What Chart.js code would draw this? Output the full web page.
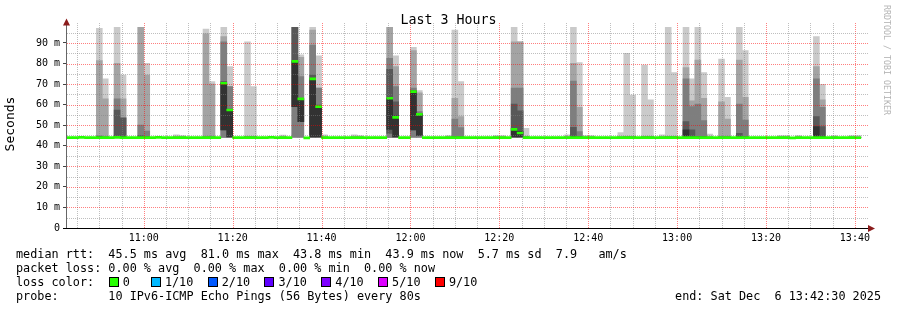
<!DOCTYPE html>
<html lang="en">
<head>
  <meta charset="UTF-8">
  <title>Last 3 Hours</title>
  <script src="https://cdn.jsdelivr.net/npm/chart.js@4.4.1/dist/chart.umd.min.js"></script>
  <style>
    body { margin: 0; background: #fff; }
    #wrap {
      position: relative;
      width: 897px;
      height: 310px;
      font-family: 'DejaVu Sans Mono', monospace;
      color: #000;
    }
    #chart { position: absolute; left: 0; top: 0; }
    .txt { position: absolute; white-space: pre; line-height: 14px; }
    .leg { left: 16px; font-size: 11.8px; }
    .box {
      position: absolute;
      width: 10px;
      height: 10px;
      box-sizing: border-box;
      border: 1px solid #000;
    }
  </style>
</head>
<body>
  <div id="wrap">
    <canvas id="chart" width="897" height="310"></canvas>

    <div class="txt" style="left:0; width:897px; text-align:center; top:13px; font-size:13.3px;">Last 3 Hours</div>
    <div class="txt" style="left:-40px; width:100px; text-align:center; top:117px; font-size:13px; transform:rotate(-90deg);">Seconds</div>
    <div class="txt" style="left:827px; width:120px; text-align:center; top:53px; font-size:8.3px; color:#b4b4b4; transform:rotate(90deg);">RRDTOOL / TOBI OETIKER</div>

    <div class="txt leg" style="top:247px;">median rtt:  45.5 ms avg  81.0 ms max  43.8 ms min  43.9 ms now  5.7 ms sd  7.9   am/s</div>
    <div class="txt leg" style="top:261px;">packet loss: 0.00 % avg  0.00 % max  0.00 % min  0.00 % now</div>
    <div class="txt leg" style="top:275px;">loss color:</div>
    <div id="lossRow"></div>
    <div class="txt leg" style="top:289px;">probe:       10 IPv6-ICMP Echo Pings (56 Bytes) every 80s</div>
    <div class="txt" style="right:16px; top:289px; font-size:11.8px;">end: Sat Dec  6 13:42:30 2025</div>
  </div>

  <script>
    // ---- time axis ----
    const X_START = '10:42:30';
    const X_END = '13:42:30';
    const FIRST_BIN = '10:42:40';   // start of first 80 s step
    const STEP_SEC = 80;

    // ---- median rtt per step (ms), 134 steps ----
    const median = [
      44.0, 44.0, 44.1, 44.0, 44.0, 44.0, 44.0, 44.0, 44.1, 44.0,
      44.0, 44.0, 44.0, 44.0, 44.0, 44.1, 44.0, 44.0, 44.0, 44.0,
      44.0, 44.0, 44.0, 44.0, 44.0, 44.0, 70.4, 57.4, 44.0, 44.0,
      44.0, 44.0, 44.0, 44.0, 44.1, 44.0, 44.0, 44.0, 81.0, 62.8,
      43.8, 72.5, 59.0, 44.0, 44.0, 44.0, 44.0, 44.0, 44.0, 44.0,
      44.0, 44.0, 44.0, 44.0, 63.1, 53.8, 44.0, 44.0, 66.3, 55.3,
      44.0, 44.0, 44.0, 44.0, 44.0, 44.0, 44.0, 44.0, 44.0, 44.0,
      44.0, 44.0, 44.0, 44.0, 44.0, 48.0, 46.2, 44.0, 44.0, 44.0,
      44.0, 44.0, 44.0, 44.0, 44.0, 44.0, 44.0, 44.0, 44.0, 44.0,
      44.0, 44.0, 44.0, 44.0, 44.0, 44.0, 44.0, 44.0, 44.0, 44.0,
      44.0, 44.0, 44.0, 44.0, 44.0, 44.0, 44.0, 44.0, 44.0, 44.0,
      44.0, 44.0, 44.0, 44.0, 44.0, 44.0, 44.0, 44.0, 44.0, 44.0,
      44.0, 44.0, 43.8, 44.0, 44.0, 44.0, 44.0, 44.0, 44.0, 44.0,
      44.0, 44.0, 44.0, 43.9
    ];

    // ---- smoke: steps with spread, and the 10 sorted pings of each (ms) ----
    const smokeStep = [
      5, 6, 8, 9, 12, 13, 18, 19, 23, 24,
      26, 27, 30, 31, 36, 38, 39, 41, 42, 43,
      48, 49, 54, 55, 58, 59, 64, 65, 66, 72,
      73, 75, 76, 77, 84, 85, 86, 87, 88, 93,
      94, 95, 97, 98, 100, 101, 102, 104, 105, 106,
      107, 108, 110, 111, 113, 114, 120, 121, 123, 126,
      127, 129, 132, 133
    ];
    const ping1 = [
      43.8, 43.8, 43.8, 43.8, 43.8, 43.8, 43.8, 43.8, 43.8, 43.8,
      43.9, 43.9, 43.8, 43.8, 43.8, 43.9, 43.9, 43.9, 43.9, 43.8,
      43.8, 43.8, 43.9, 43.9, 43.9, 43.9, 43.8, 43.8, 43.8, 43.8,
      43.8, 43.9, 43.9, 43.8, 43.8, 43.8, 43.8, 43.8, 43.8, 43.8,
      43.8, 43.8, 43.8, 43.8, 43.8, 43.8, 43.8, 43.8, 43.8, 43.8,
      43.8, 43.8, 43.8, 43.8, 43.8, 43.8, 43.8, 43.8, 43.8, 43.8,
      43.8, 43.8, 43.8, 43.8
    ];
    const ping2 = [
      43.9, 43.9, 43.9, 43.9, 43.9, 43.9, 43.9, 43.9, 43.9, 43.9,
      44.0, 44.0, 43.9, 43.9, 43.9, 44.0, 44.0, 44.0, 44.0, 43.9,
      43.9, 43.9, 44.0, 44.0, 44.0, 44.0, 43.9, 43.9, 43.9, 43.9,
      43.9, 44.0, 44.0, 43.9, 43.9, 43.9, 43.9, 43.9, 43.9, 43.9,
      43.9, 43.9, 43.9, 43.9, 43.9, 43.9, 43.9, 43.9, 43.9, 43.9,
      43.9, 43.9, 43.9, 43.9, 43.9, 43.9, 43.9, 43.9, 43.9, 43.9,
      43.9, 43.9, 43.9, 43.9
    ];
    const ping3 = [
      44.0, 44.0, 44.0, 44.0, 44.0, 44.0, 44.0, 44.0, 44.0, 44.0,
      44.1, 44.1, 44.0, 44.0, 44.0, 44.2, 44.2, 44.1, 44.1, 44.0,
      44.0, 44.0, 44.1, 44.1, 44.2, 44.2, 44.0, 44.0, 44.0, 44.0,
      44.0, 44.1, 44.1, 44.0, 44.0, 44.0, 44.0, 44.0, 44.0, 44.0,
      44.0, 44.0, 44.0, 44.0, 44.0, 44.0, 44.0, 44.0, 44.0, 44.0,
      44.0, 44.0, 44.0, 44.0, 44.0, 44.0, 44.0, 44.0, 44.0, 44.0,
      44.0, 44.0, 44.0, 44.0
    ];
    const ping4 = [
      44.0, 44.0, 44.1, 44.1, 44.1, 44.0, 44.0, 44.0, 44.0, 44.0,
      47.7, 44.2, 44.0, 44.0, 44.0, 59.0, 51.7, 44.2, 44.2, 44.0,
      44.0, 44.0, 46.0, 44.2, 47.7, 45.0, 44.0, 44.0, 44.0, 44.0,
      44.0, 44.2, 44.2, 44.0, 44.0, 44.1, 44.0, 44.0, 44.0, 44.0,
      44.0, 44.0, 44.0, 44.0, 44.0, 44.0, 44.0, 44.1, 44.0, 44.0,
      44.0, 44.0, 44.0, 44.0, 44.0, 44.0, 44.0, 44.0, 44.0, 44.1,
      44.0, 44.0, 44.0, 44.0
    ];
    const ping5 = [
      44.1, 44.1, 44.3, 44.3, 44.2, 44.1, 44.0, 44.0, 44.1, 44.1,
      47.7, 44.4, 44.1, 44.1, 44.0, 59.0, 51.7, 44.4, 44.4, 44.0,
      44.0, 44.0, 48.0, 44.4, 47.7, 45.0, 44.0, 44.1, 44.1, 44.0,
      44.0, 44.4, 44.4, 44.1, 44.0, 44.2, 44.1, 44.0, 44.0, 44.0,
      44.1, 44.1, 44.1, 44.1, 44.0, 44.1, 44.1, 44.3, 44.1, 44.1,
      44.1, 44.0, 44.1, 44.1, 44.1, 44.1, 44.0, 44.0, 44.0, 44.3,
      44.1, 44.0, 44.0, 44.0
    ];
    const ping6 = [
      44.2, 44.1, 44.6, 44.6, 44.4, 44.2, 44.1, 44.1, 44.1, 44.1,
      70.4, 57.4, 44.1, 44.1, 44.1, 81.0, 62.8, 72.5, 59.0, 44.1,
      44.1, 44.1, 63.1, 54.5, 66.3, 55.3, 44.1, 44.1, 44.1, 44.1,
      44.1, 48.5, 47.0, 44.1, 44.1, 44.5, 44.2, 44.1, 44.1, 44.1,
      44.1, 44.1, 44.1, 44.1, 44.1, 44.1, 44.1, 47.7, 44.3, 44.2,
      44.2, 44.1, 44.1, 44.1, 44.5, 44.2, 44.1, 44.1, 44.1, 49.3,
      44.5, 44.1, 44.1, 44.1
    ];
    const ping7 = [
      44.6, 44.2, 57.4, 53.5, 45.0, 44.5, 44.1, 44.1, 44.2, 44.2,
      71.2, 57.8, 44.2, 44.2, 44.1, 97.6, 63.1, 74.4, 59.8, 44.1,
      44.1, 44.1, 77.2, 61.4, 67.0, 55.8, 44.1, 44.5, 44.5, 44.1,
      44.1, 60.3, 57.0, 44.2, 44.1, 49.0, 44.5, 44.1, 44.1, 44.1,
      44.2, 44.2, 44.2, 44.2, 44.1, 44.2, 44.2, 51.7, 47.7, 44.5,
      44.5, 44.1, 44.2, 44.2, 46.0, 44.5, 44.1, 44.1, 44.1, 54.2,
      49.3, 44.1, 44.1, 44.1
    ];
    const ping8 = [
      44.8, 44.4, 62.8, 53.7, 50.1, 47.2, 44.2, 44.2, 44.4, 44.4,
      90.6, 68.8, 44.3, 44.3, 44.2, 97.6, 73.6, 89.0, 68.0, 44.2,
      44.2, 44.2, 82.5, 68.8, 68.0, 56.6, 44.2, 53.0, 48.8, 44.2,
      44.2, 68.0, 68.0, 44.3, 44.2, 71.5, 46.9, 44.2, 44.2, 44.2,
      44.3, 44.3, 44.3, 44.3, 44.2, 44.3, 44.3, 72.5, 59.0, 60.3,
      52.2, 44.2, 44.5, 44.5, 60.3, 52.5, 44.2, 44.2, 44.2, 72.5,
      58.7, 44.2, 44.2, 44.2
    ];
    const ping9 = [
      81.4, 62.8, 80.1, 62.8, 97.6, 74.4, 44.3, 44.3, 94.4, 70.0,
      93.1, 68.8, 44.5, 44.5, 44.3, 97.6, 83.0, 96.3, 68.0, 44.3,
      44.3, 44.3, 97.6, 78.5, 86.3, 65.8, 44.3, 63.1, 54.2, 44.3,
      44.3, 90.6, 90.6, 44.5, 44.3, 80.1, 58.7, 44.3, 44.3, 44.3,
      44.5, 44.5, 44.5, 44.5, 44.3, 44.5, 44.5, 78.0, 61.8, 81.7,
      63.1, 44.3, 61.4, 53.0, 81.7, 63.6, 44.3, 44.3, 44.3, 78.5,
      62.3, 44.3, 44.3, 44.3
    ];
    const ping10 = [
      97.1, 72.5, 97.6, 74.4, 97.6, 80.1, 45.3, 44.9, 96.8, 71.2,
      97.6, 78.5, 90.6, 68.8, 45.2, 97.6, 84.2, 97.6, 83.7, 45.3,
      45.3, 45.0, 97.6, 83.7, 87.9, 66.8, 45.0, 96.3, 71.2, 44.9,
      45.0, 97.6, 90.6, 48.5, 45.3, 97.6, 80.4, 45.0, 45.0, 46.4,
      85.0, 64.7, 79.3, 62.3, 45.3, 97.6, 75.6, 97.6, 72.5, 97.6,
      75.6, 45.7, 82.2, 63.6, 97.6, 86.3, 45.0, 45.0, 44.9, 93.1,
      69.9, 45.0, 45.0, 45.0
    ];
    const pings = [ping1, ping2, ping3, ping4, ping5, ping6, ping7, ping8, ping9, ping10];

    // ---- axis ticks ----
    const yTickValues = [0, 5, 10, 15, 20, 25, 30, 35, 40, 45, 50, 55, 60, 65, 70, 75, 80, 85, 90, 95];

    // ---- styling ----
    const smokeShades = ['#cacaca', '#a4a4a4', '#7e7e7e', '#585858', '#323232'];
    const medianColor = '#26ff00';
    const medianHalf = 0.5;
    const majorGrid = 'rgba(255, 0, 0, 0.5)';
    const minorGrid = 'rgba(128, 128, 128, 0.5)';
    const monoFont = 'DejaVu Sans Mono';

    // loss colour legend row
    const lossLabels = ['0', '1/10', '2/10', '3/10', '4/10', '5/10', '9/10'];
    const lossColors = ['#26ff00', '#00b8ff', '#0059ff', '#5e00ff', '#7e00ff', '#dd00ff', '#ff0000'];
    const lossBoxX = [108.6, 150.7, 207.5, 264.3, 321.1, 377.9, 434.7];

    const row = document.getElementById('lossRow');
    lossLabels.forEach((lab, i) => {
      const b = document.createElement('div');
      b.className = 'box';
      b.style.left = lossBoxX[i] + 'px';
      b.style.top = '277px';
      b.style.background = lossColors[i];
      row.appendChild(b);
      const t = document.createElement('div');
      t.className = 'txt';
      t.style.left = (lossBoxX[i] + 14.2) + 'px';
      t.style.top = '275px';
      t.style.fontSize = '11.8px';
      t.textContent = lab;
      row.appendChild(t);
    });

    function toMin(s) {
      const [h, m, sec] = s.split(':').map(Number);
      return h * 60 + m + (sec || 0) / 60;
    }
    function hhmm(v) {
      const h = Math.floor(v / 60), m = Math.round(v % 60);
      return String(h).padStart(2, '0') + ':' + String(m).padStart(2, '0');
    }
    const binStart = toMin(FIRST_BIN);
    const stepMin = STEP_SEC / 60;
    const binMid = k => binStart + (k + 0.5) * stepMin;

    // one floating-bar dataset per smoke band: [p(i), p(11-i)]
    const smokeSets = [];
    for (let i = 4; i >= 0; i--) {
      smokeSets.push({
        label: 'smoke ' + (i + 1),
        data: smokeStep.map((s, j) => ({ x: binMid(s), y: [pings[i][j], pings[9 - i][j]] })),
        backgroundColor: smokeShades[i],
        order: 5 - i
      });
    }

    // rrdtool style dotted grid, painted over the smoke
    const dottedGrid = {
      id: 'dottedGrid',
      afterDatasetsDraw(chart) {
        const { ctx, chartArea: a, scales: { x, y } } = chart;
        ctx.save();
        ctx.lineWidth = 1;
        ctx.setLineDash([1, 1]);
        x.ticks.forEach(t => {
          const px = Math.round(x.getPixelForValue(t.value)) + 0.5;
          ctx.strokeStyle = t.value % 20 === 0 ? majorGrid : minorGrid;
          ctx.beginPath();
          ctx.moveTo(px, Math.round(a.bottom));
          ctx.lineTo(px, Math.round(a.top));
          ctx.stroke();
        });
        y.ticks.forEach(t => {
          if (t.value === 0) return;
          const py = Math.round(y.getPixelForValue(t.value)) + 0.5;
          ctx.strokeStyle = t.value % 10 === 0 ? majorGrid : minorGrid;
          ctx.beginPath();
          ctx.moveTo(Math.round(a.left) + 1, py);
          ctx.lineTo(Math.round(a.right) + 2, py);
          ctx.stroke();
        });
        ctx.restore();
      }
    };

    const axisArrows = {
      id: 'axisArrows',
      afterDraw(chart) {
        const { ctx, chartArea: a } = chart;
        ctx.save();
        ctx.strokeStyle = '#000';
        ctx.lineWidth = 1;
        ctx.beginPath();
        ctx.moveTo(a.left - 3, Math.round(a.bottom) + 0.5);
        ctx.lineTo(a.right + 3, Math.round(a.bottom) + 0.5);
        ctx.stroke();
        ctx.strokeStyle = '#666';
        ctx.beginPath();
        ctx.moveTo(Math.round(a.left) + 0.5, a.bottom);
        ctx.lineTo(Math.round(a.left) + 0.5, a.top - 2);
        ctx.stroke();
        ctx.fillStyle = '#8b1c1c';
        ctx.beginPath();
        ctx.moveTo(a.right + 2, a.bottom - 3);
        ctx.lineTo(a.right + 9, a.bottom + 0.5);
        ctx.lineTo(a.right + 2, a.bottom + 4);
        ctx.closePath();
        ctx.fill();
        ctx.beginPath();
        ctx.moveTo(a.left - 3, a.top + 3);
        ctx.lineTo(a.left + 0.5, a.top - 4);
        ctx.lineTo(a.left + 4, a.top + 3);
        ctx.closePath();
        ctx.fill();
        ctx.restore();
      }
    };

    new Chart(document.getElementById('chart'), {
      type: 'bar',
      data: {
        datasets: [
          {
            label: 'median rtt',
            data: median.map((m, k) => ({ x: binMid(k), y: [m - medianHalf, m + medianHalf] })),
            backgroundColor: medianColor,
            order: 0
          },
          ...smokeSets
        ]
      },
      options: {
        responsive: false,
        animation: false,
        events: [],
        grouped: false,
        barPercentage: 1,
        categoryPercentage: 1,
        borderWidth: 0,
        layout: { autoPadding: false, padding: { left: 0, right: 31, top: 22.4, bottom: 62 } },
        plugins: { legend: { display: false }, tooltip: { enabled: false } },
        scales: {
          x: {
            type: 'linear',
            offset: false,
            min: toMin(X_START),
            max: toMin(X_END),
            afterBuildTicks(scale) {
              const t = [];
              for (let m = Math.ceil(scale.min / 5) * 5; m <= scale.max; m += 5) t.push({ value: m });
              scale.ticks = t;
            },
            afterFit(scale) { scale.height = 20; },
            grid: { offset: false, drawOnChartArea: false, drawTicks: false },
            border: { display: false },
            ticks: {
              autoSkip: false,
              maxRotation: 0,
              padding: 4,
              color: '#000',
              font: { family: monoFont, size: 10 },
              callback: v => (v % 20 === 0 ? hhmm(v) : '')
            }
          },
          y: {
            min: 0,
            max: 100,
            afterBuildTicks(scale) { scale.ticks = yTickValues.map(v => ({ value: v })); },
            afterFit(scale) { scale.width = 66; },
            grid: {
              drawOnChartArea: false,
              drawTicks: true,
              tickLength: 3,
              tickColor: ctx => (ctx.tick && ctx.tick.value % 10 === 0) ? '#444' : 'rgba(0,0,0,0)'
            },
            border: { display: false },
            ticks: {
              autoSkip: false,
              padding: 3,
              color: '#000',
              font: { family: monoFont, size: 10 },
              callback: v => (v % 10 !== 0 ? '' : v === 0 ? '0' : v + ' m')
            }
          }
        }
      },
      plugins: [dottedGrid, axisArrows]
    });
  </script>
</body>
</html>
